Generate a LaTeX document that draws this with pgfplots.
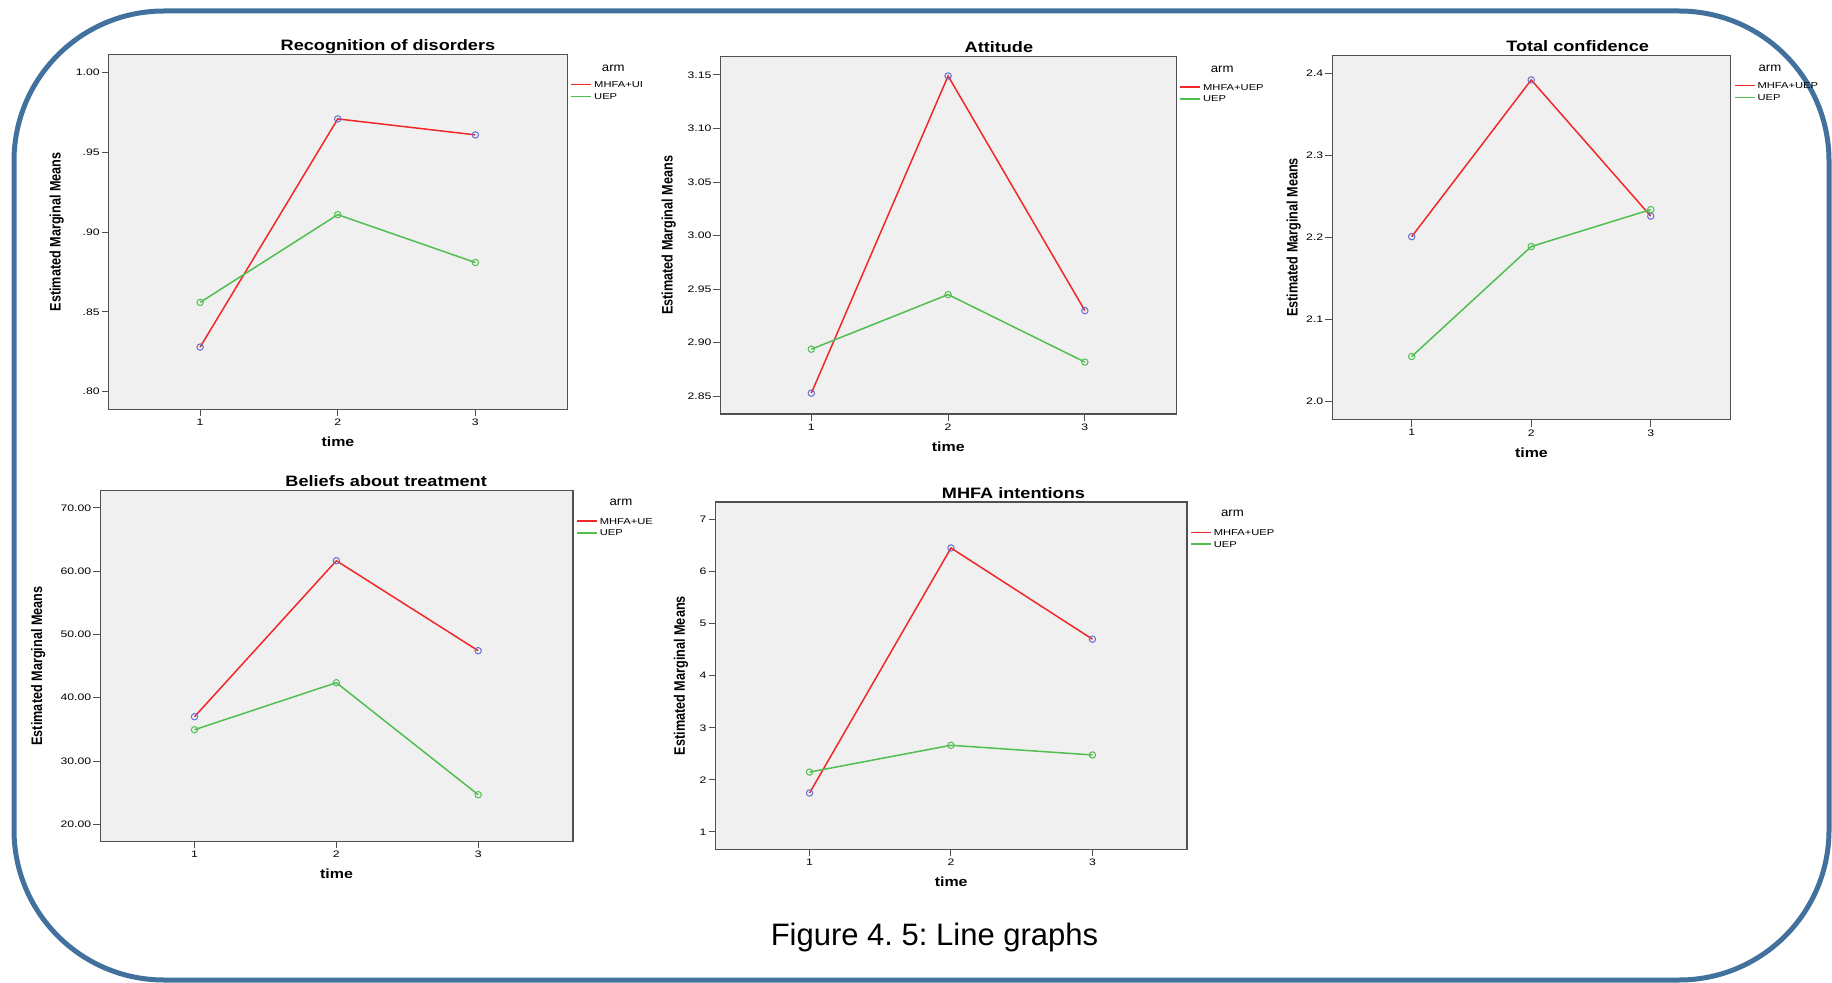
\documentclass[border=0pt]{standalone}
\usepackage{fontspec}
\usepackage{pgfplots}
\pgfplotsset{compat=1.18}
\setmainfont{Liberation Sans}
\newfontfamily\Fplain{Liberation Sans}
\newfontfamily\Ftitle[FakeStretch=1.2]{Liberation Sans}
\newfontfamily\Ftick[FakeStretch=1.3]{Liberation Sans}
\newfontfamily\Farm[FakeStretch=1.1]{Liberation Sans}
\newcommand\titlef{\Ftitle\bfseries\fontsize{7.55}{9}\selectfont}
\newcommand\tickf{\Ftick\fontsize{4.7}{5.5}\selectfont}
\newcommand\legf{\Ftick\fontsize{4.3}{5}\selectfont}
\newcommand\armf{\Farm\fontsize{6}{7}\selectfont}
\newcommand\timef{\Ftitle\bfseries\fontsize{6.65}{8}\selectfont}
\newcommand\ylabf{\Fplain\bfseries\fontsize{6.33}{7.5}\selectfont}

\definecolor{redc}{RGB}{240,40,40}
\definecolor{greenc}{RGB}{80,190,80}
\definecolor{markc}{RGB}{100,110,210}
\definecolor{bgc}{RGB}{240,240,240}
\definecolor{framec}{RGB}{80,80,80}
\definecolor{borderc}{RGB}{65,113,156}

\pgfplotsset{
  spss/.style={
    scale only axis, anchor=north west,
    xmin=0.335, xmax=3.668,
    xtick={1,2,3}, xticklabels={1,2,3},
    axis background/.style={fill=bgc},
    axis line style={draw=framec, line width=0.6pt},
    tick align=outside, major tick length=3.5pt,
    tick style={draw=framec, line width=0.5pt},
    xtick pos=left, ytick pos=left,
    ticklabel style={font=\tickf, text=black},
    yticklabel style={inner sep=0.8pt},
    xticklabel style={inner sep=1.2pt},
    title style={font=\titlef, anchor=base, inner sep=0pt},
    xlabel=time,
    xlabel style={font=\timef, at={([yshift=-16.4pt]axis description cs:0.5,0)}, anchor=center},
    ylabel=Estimated Marginal Means,
    clip=false,
    legend cell align=left,
    legend style={at={(axis description cs:1,1)}, anchor=north west,
      xshift=1.5pt, yshift=-12.45pt, draw=none, fill=none, inner sep=0pt,
      font=\legf, row sep=0.75pt,
      nodes={inner sep=1pt, text height=3.1pt, text depth=0pt}},
    legend image code/.code={\draw[##1, line width=0.75pt] (0pt,0pt) -- (10pt,0pt);},
  },
  ylab/.style={ylabel style={font=\ylabf, at={([xshift=-#1]axis description cs:0,0.5)}, anchor=center, yscale=1.2}},
  redplot/.style={redc, line width=0.75pt, mark=o, mark size=1.6pt,
    mark options={draw=markc, line width=0.5pt}},
  greenplot/.style={greenc, line width=0.75pt, mark=o, mark size=1.6pt,
    mark options={draw=greenc, line width=0.5pt}},
}

\begin{document}
\frenchspacing
\begin{tikzpicture}
\useasboundingbox (0pt,0pt) rectangle (916pt,491pt);
\draw[borderc, line width=2.5pt, rounded corners=75pt] (7pt,485.5pt) rectangle (914.5pt,1pt);

% Recognition of disorders
\begin{axis}[spss, at={(54.3pt,463.85pt)}, width=229.35pt, height=177.5pt,
  ymin=0.789, ymax=1.0115,
  ytick={0.80,0.85,0.90,0.95,1.00}, yticklabels={.80,.85,.90,.95,1.00},
  title={Recognition of disorders},
  title style={at={(axis description cs:0.609,1)}, yshift=-4.1pt},
  ylab=25.9pt]
\addplot[redplot] coordinates {(1,0.828) (2,0.971) (3,0.961)};
\addlegendentry{MHFA+UI}
\addplot[greenplot] coordinates {(1,0.856) (2,0.911) (3,0.881)};
\addlegendentry{UEP}
\node[font=\armf] at ([xshift=23pt,yshift=-7pt]axis description cs:1,1) {arm};
\end{axis}

% Attitude
\begin{axis}[spss, at={(360.2pt,462.65pt)}, width=227.9pt, height=178.65pt,
  ymin=2.8335, ymax=3.167,
  ytick={2.85,2.90,2.95,3.00,3.05,3.10,3.15}, yticklabels={2.85,2.90,2.95,3.00,3.05,3.10,3.15},
  title={Attitude},
  title style={at={(axis description cs:0.611,1)}, yshift=-4.1pt},
  ylab=25.9pt]
\addplot[redplot] coordinates {(1,2.853) (2,3.149) (3,2.930)};
\addlegendentry{MHFA+UEP}
\addplot[greenplot] coordinates {(1,2.894) (2,2.945) (3,2.882)};
\addlegendentry{UEP}
\node[font=\armf] at ([xshift=23pt,yshift=-6.2pt]axis description cs:1,1) {arm};
\end{axis}

% Total confidence
\begin{axis}[spss, at={(666.1pt,463.35pt)}, width=199.2pt, height=182.2pt,
  ymin=1.978, ymax=2.422,
  ytick={2.0,2.1,2.2,2.3,2.4}, yticklabels={2.0,2.1,2.2,2.3,2.4},
  title={Total confidence},
  title style={at={(axis description cs:0.616,1)}, yshift=-4.1pt},
  ylab=19.3pt]
\addplot[redplot] coordinates {(1,2.201) (2,2.392) (3,2.226)};
\addlegendentry{MHFA+UEP}
\addplot[greenplot] coordinates {(1,2.055) (2,2.189) (3,2.234)};
\addlegendentry{UEP}
\node[font=\armf] at ([xshift=19.7pt,yshift=-6.3pt]axis description cs:1,1) {arm};
\end{axis}

% Beliefs about treatment
\begin{axis}[spss, at={(50.1pt,245.65pt)}, width=236.35pt, height=175.3pt,
  ymin=17.31, ymax=72.73,
  ytick={20,30,40,50,60,70}, yticklabels={20.00,30.00,40.00,50.00,60.00,70.00},
  title={Beliefs about treatment},
  title style={at={(axis description cs:0.605,1)}, yshift=-4.1pt},
  ylab=31pt]
\addplot[redplot] coordinates {(1,37.0) (2,61.66) (3,47.44)};
\addlegendentry{MHFA+UE}
\addplot[greenplot] coordinates {(1,34.95) (2,42.38) (3,24.68)};
\addlegendentry{UEP}
\node[font=\armf] at ([xshift=24pt,yshift=-5.8pt]axis description cs:1,1) {arm};
\end{axis}

% MHFA intentions
\begin{axis}[spss, at={(357.75pt,240pt)}, width=235.7pt, height=173.65pt,
  ymin=0.668, ymax=7.332,
  ytick={1,2,3,4,5,6,7}, yticklabels={1,2,3,4,5,6,7},
  title={MHFA intentions},
  title style={at={(axis description cs:0.632,1)}, yshift=-4.1pt},
  ylab=17.25pt]
\addplot[redplot] coordinates {(1,1.749) (2,6.45) (3,4.70)};
\addlegendentry{MHFA+UEP}
\addplot[greenplot] coordinates {(1,2.15) (2,2.664) (3,2.478)};
\addlegendentry{UEP}
\node[font=\armf] at ([xshift=22.8pt,yshift=-5.85pt]axis description cs:1,1) {arm};
\end{axis}

\node[font=\Fplain\fontsize{15.5}{18}\selectfont, anchor=base] at (467.25pt,18.5pt) {Figure 4. 5: Line graphs};
\end{tikzpicture}
\end{document}
